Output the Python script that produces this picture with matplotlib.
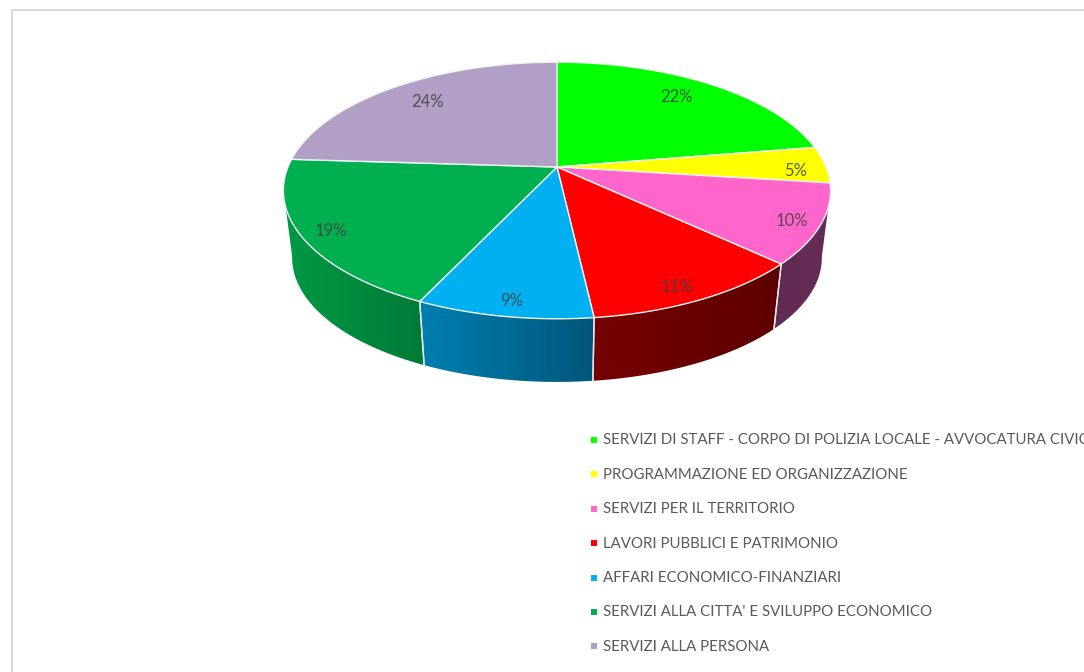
import matplotlib
matplotlib.use('Agg')
import matplotlib.pyplot as plt
from matplotlib.colors import to_rgb
from matplotlib.patches import Polygon
import numpy as np

labels = ['SERVIZI DI STAFF - CORPO DI POLIZIA LOCALE - AVVOCATURA CIVICA',
          'PROGRAMMAZIONE ED ORGANIZZAZIONE',
          'SERVIZI PER IL TERRITORIO',
          'LAVORI PUBBLICI E PATRIMONIO',
          'AFFARI ECONOMICO-FINANZIARI',
          "SERVIZI ALLA CITTA' E SVILUPPO ECONOMICO",
          'SERVIZI ALLA PERSONA']
values = [22.4, 4.6, 10, 11.2, 8.8, 19, 24]

colors = ['#00FF00', '#FFFF00', '#FF66CC', '#FF0000', '#00B0F0', '#00B050', '#B19FC6']
# side wall gradient, left and right colour of each slice
side_left = ['#009900', '#999900', '#612A52', '#750000', '#007FB0', '#009A45', '#6A5F77']
side_right = ['#009900', '#999900', '#662C58', '#5E0000', '#00567A', '#007A36', '#6A5F77']
label_radius = [0.77, 0.88, 0.9, 0.88, 0.9, 0.88, 0.78]
label_shift = [(-2, -4), (3, 6), (-1, 3), (-4, 6), (2, 3), (-4, 3), (1, -1)]

# pie geometry in pixels, with a bit of perspective
cx, cy = 557, 167
rx, ry = 269, 124
persp = 0.183
bottom_cy = 235
bottom_scale = 0.968
# the wall outline leaves the top ellipse at these angles
wall_from, wall_to = 100, 260


def project(angle, r=1.0):
    # angle in degrees, clockwise from 12 o'clock
    t = np.radians(angle)
    u = r * np.sin(t)
    v = r * np.cos(t)
    d = 1 + persp * v
    return cx + rx * u / d, cy - ry * v / d


def project_bottom(angle):
    x, y = project(angle)
    return cx + bottom_scale * (x - cx), bottom_cy + bottom_scale * (y - cy)


plt.rcParams['font.family'] = ['Lato', 'DejaVu Sans']

fig = plt.figure(figsize=(10.84, 6.72), dpi=100)
ax = fig.add_axes([0, 0, 1, 1])
ax.axis('off')

# chart frame, runs off the right and bottom of the screenshot
ax.plot([12, 12, 1084], [672, 10, 10], color='#D9D9D9', lw=1.44, solid_capstyle='butt')

edges = np.concatenate([[0], np.cumsum(values)]) * 3.6

# side walls
for i in range(len(values)):
    a0, a1 = max(edges[i], wall_from), min(edges[i + 1], wall_to)
    if a1 <= a0:
        continue
    ang = np.linspace(a0, a1, 100)
    tx, ty = project(ang)
    bx, by = project_bottom(ang)
    outline = np.column_stack([np.r_[tx, bx[::-1]], np.r_[ty, by[::-1]]])
    xmin, xmax = outline[:, 0].min(), outline[:, 0].max()
    ramp = np.linspace(0, 1, 64)[:, None]
    grad = (np.array(to_rgb(side_left[i])) * (1 - ramp) + np.array(to_rgb(side_right[i])) * ramp)[None, :, :]
    im = ax.imshow(grad, extent=[xmin, xmax, outline[:, 1].max(), outline[:, 1].min()],
                   aspect='auto', interpolation='bilinear', zorder=2)
    im.set_clip_path(Polygon(outline, closed=True, transform=ax.transData))
    for e in (edges[i], edges[i + 1]):
        if wall_from < e < wall_to:
            p, q = project(e), project_bottom(e)
            ax.plot([p[0], q[0]], [p[1], q[1]], color='#E4E8EA', lw=1.0, zorder=3)

# top face
for i in range(len(values)):
    ang = np.linspace(edges[i], edges[i + 1], 120)
    xs, ys = project(ang)
    ax.fill(np.r_[cx, xs], np.r_[cy, ys], facecolor=colors[i], edgecolor='#F2F2F2', lw=1.0,
            joinstyle='round', zorder=4)

# percentage labels
for i, val in enumerate(values):
    mid = 0.5 * (edges[i] + edges[i + 1])
    x, y = project(mid, label_radius[i])
    ax.text(x + label_shift[i][0], y + label_shift[i][1], f'{round(val)}%', ha='center', va='center',
            fontsize=12, color='#404040', alpha=0.85, zorder=5)

# legend
for i, name in enumerate(labels):
    y = 440 + 34.4 * i
    ax.plot(594, y, marker='s', ms=4.3, mew=0, color=colors[i], zorder=5)
    ax.text(603, y + 0.5, name, ha='left', va='center', fontsize=10.85, color='#595959', zorder=5)

ax.set_xlim(0, 1084)
ax.set_ylim(672, 0)

fig.savefig('out.png', dpi=100)
